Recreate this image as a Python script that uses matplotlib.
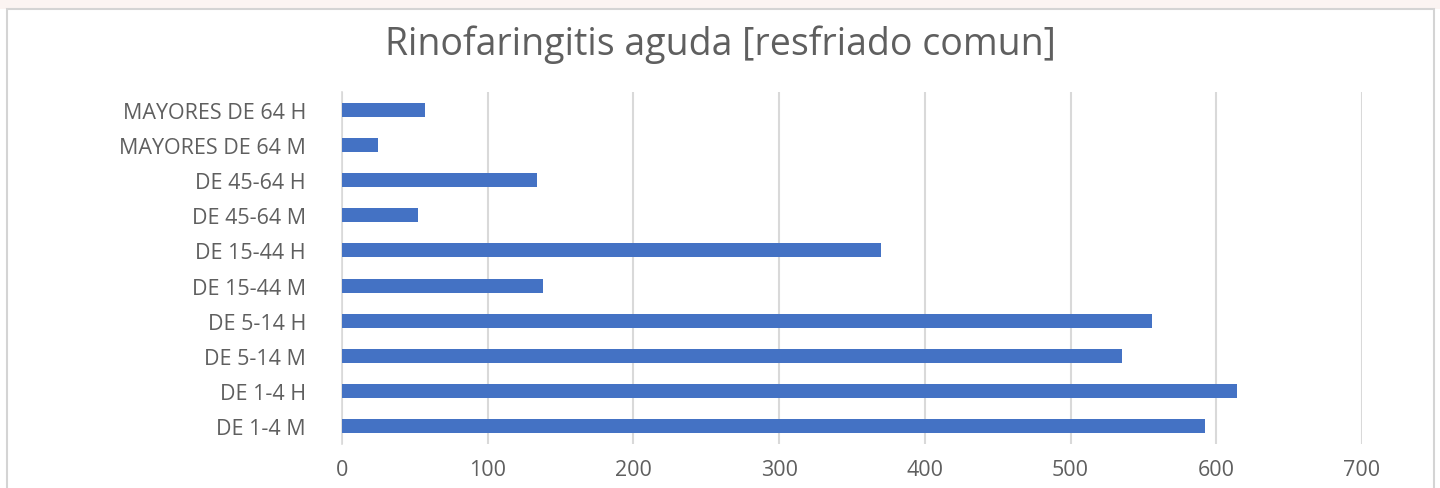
import matplotlib.pyplot as plt
from matplotlib.patches import Rectangle

# casos por grupo de edad y sexo
grupos = ['DE 1-4 M', 'DE 1-4 H', 'DE 5-14 M', 'DE 5-14 H', 'DE 15-44 M',
          'DE 15-44 H', 'DE 45-64 M', 'DE 45-64 H', 'MAYORES DE 64 M', 'MAYORES DE 64 H']
casos = [592, 614, 535, 556, 138, 370, 52, 134, 25, 57]
xticks = [0, 100, 200, 300, 400, 500, 600, 700]

plt.rcParams['font.family'] = ['Open Sans', 'DejaVu Sans']
gris = '#5f5f5f'

fig = plt.figure(figsize=(14.4, 4.89), dpi=100)
fig.patch.set_facecolor('white')

# franja superior y marco del grafico
fig.patches.append(Rectangle((0, 1 - 10/489), 1, 10/489, transform=fig.transFigure,
                             facecolor='#FBF4F2', edgecolor='none', zorder=-2))
fig.patches.append(Rectangle((7/1440, -0.01), 1427/1440, 1 - 10/489 + 0.01,
                             transform=fig.transFigure, facecolor='white',
                             edgecolor='#D4D4D4', linewidth=1.5, zorder=-1))

ax = fig.add_axes([342/1440, 1 - 445/489, 1020/1440, 352/489])
ax.barh(range(len(grupos)), casos, height=0.4, color='#4472C4', zorder=3)

ax.set_xlim(0, 700)
ax.set_ylim(-0.5, len(grupos) - 0.5)
ax.set_xticks(xticks)
ax.set_yticks(range(len(grupos)))
ax.set_yticklabels(grupos)
ax.xaxis.grid(True, color='#D9D9D9', linewidth=1.5, zorder=0)
for s in ['top', 'right', 'bottom']:
    ax.spines[s].set_visible(False)
ax.spines['left'].set_color('#D9D9D9')
ax.spines['left'].set_linewidth(1.2)
ax.tick_params(axis='both', length=0, colors=gris, labelsize=15.5)
ax.tick_params(axis='y', pad=26)
ax.tick_params(axis='x', pad=11)
ax.set_facecolor('none')

fig.text(0.5, 1 - 45/489, 'Rinofaringitis aguda [resfriado comun]',
         ha='center', va='center', fontsize=27, color=gris)

fig.savefig('out.png', dpi=100)
